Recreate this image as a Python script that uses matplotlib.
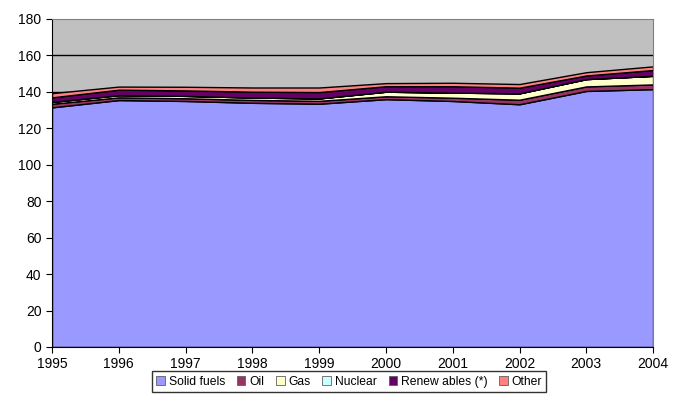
import numpy as np
import matplotlib
matplotlib.use('Agg')
import matplotlib.pyplot as plt

plt.rcParams['font.family'] = ['Liberation Sans', 'DejaVu Sans']

# values (stacked, bottom to top)
years = [1995, 1996, 1997, 1998, 1999, 2000, 2001, 2002, 2003, 2004]
solid_fuels = [131.5, 135.5, 135.0, 134.0, 133.5, 136.0, 135.0, 133.2, 140.5, 141.5]
oil = [2.0, 1.5, 1.5, 1.6, 1.6, 1.6, 1.8, 2.5, 2.5, 2.6]
gas = [1.0, 1.2, 1.3, 1.3, 1.3, 2.5, 2.8, 3.5, 4.0, 4.7]
nuclear = [0, 0, 0, 0, 0, 0, 0, 0, 0, 0]
renewables = [2.5, 3.0, 3.0, 3.2, 3.5, 3.0, 3.5, 3.1, 2.0, 3.2]
other = [2.3, 1.7, 2.0, 2.3, 2.5, 1.7, 1.9, 2.0, 1.8, 2.0]

labels = ['Solid fuels', 'Oil', 'Gas', 'Nuclear', 'Renew ables (*)', 'Other']
colors = ['#9999FF', '#993366', '#FFFFCC', '#CCFFFF', '#660066', '#FF8080']

fig = plt.figure(figsize=(6.86, 4.03), dpi=100)
ax = fig.add_axes([0.0758, 0.139, 0.8762, 0.8139])
ax.set_facecolor('#C0C0C0')

stacks = ax.stackplot(years, solid_fuels, oil, gas, nuclear, renewables, other,
                      colors=colors, labels=labels, edgecolor='black', linewidth=1.0)

ax.set_xlim(1995, 2004)
ax.set_ylim(0, 180)
ax.set_xticks(years)
ax.set_yticks(np.arange(0, 181, 20))
ax.yaxis.grid(True, color='black', linewidth=1.0)
ax.set_axisbelow(True)
# the top line is the grey frame, not a gridline
ax.get_ygridlines()[-1].set_visible(False)

ax.tick_params(labelsize=10, length=4, direction='out', color='black')
for s in ['top', 'right']:
    ax.spines[s].set_color('#808080')
for s in ['left', 'bottom']:
    ax.spines[s].set_color('black')

leg = fig.legend(handles=stacks, labels=labels, loc='center', ncol=6,
                 bbox_to_anchor=(0.509, 0.053),
                 fontsize=8.7, frameon=True,
                 fancybox=False, edgecolor='black', handlelength=0.7,
                 handleheight=0.7, handletextpad=0.3, columnspacing=1.0,
                 borderpad=0.35, borderaxespad=0)
leg.get_frame().set_linewidth(1.0)
for h in leg.legend_handles:
    h.set_edgecolor('#606060')
    h.set_linewidth(0.6)

fig.savefig('out.png', dpi=100)
